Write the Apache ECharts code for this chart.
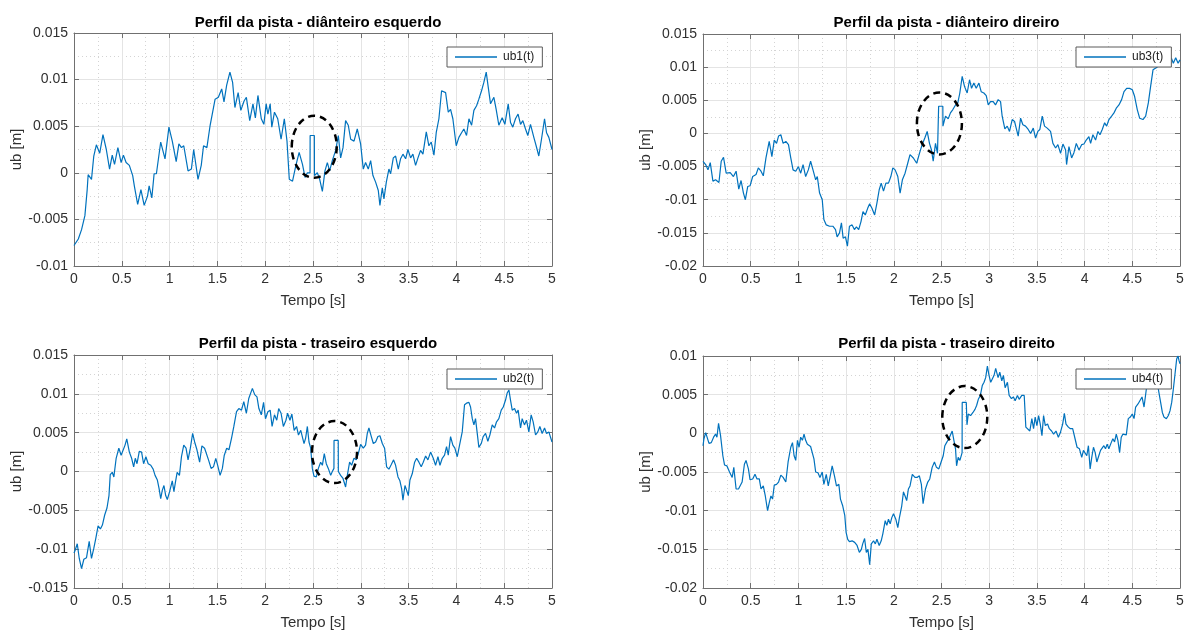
<!DOCTYPE html>
<html>
<head>
<meta charset="utf-8">
<title>Perfil da pista</title>
<script src="https://cdn.jsdelivr.net/npm/echarts@6/dist/echarts.min.js"></script>
<style>
  html, body { margin: 0; padding: 0; background: #fff; }
  #chart { width: 1189px; height: 634px; }
</style>
</head>
<body>
<div id="chart"></div>
<script>
// Road profile under each wheel, ub [m] vs time [s]

const titles = [
  'Perfil da pista - diânteiro esquerdo',
  'Perfil da pista - diânteiro direiro',
  'Perfil da pista - traseiro esquerdo',
  'Perfil da pista - traseiro direito'
];
const seriesNames = ['ub1(t)', 'ub3(t)', 'ub2(t)', 'ub4(t)'];

// y-axis ranges per panel [min, max]
const yRanges = [[-0.01, 0.015], [-0.02, 0.015], [-0.015, 0.015], [-0.02, 0.01]];
const xTicks = [0, 0.5, 1, 1.5, 2, 2.5, 3, 3.5, 4, 4.5, 5];

// ub1: front left
const tUb1 = [0,0.010,0.045,0.079,0.114,0.138,0.148,0.166,0.183,0.207,0.234,0.269,0.303,0.338,0.372,0.400,0.424,0.459,0.493,0.517,0.545,0.579,0.614,0.631,0.666,0.700,0.734,0.769,0.786,0.814,0.838,0.862,0.907,0.952,0.993,1.028,1.069,1.097,1.124,1.148,1.193,1.228,1.252,1.297,1.331,1.355,1.390,1.424,1.476,1.510,1.545,1.569,1.597,1.631,1.659,1.683,1.717,1.745,1.779,1.803,1.838,1.872,1.897,1.924,1.959,1.986,2.010,2.028,2.052,2.069,2.097,2.131,2.166,2.200,2.228,2.252,2.286,2.321,2.355,2.390,2.417,2.441,2.469,2.470,2.514,2.515,2.545,2.570,2.598,2.625,2.650,2.674,2.702,2.737,2.765,2.789,2.814,2.841,2.869,2.894,2.929,2.963,2.998,3.026,3.050,3.078,3.103,3.127,3.155,3.183,3.200,3.225,3.242,3.267,3.294,3.312,3.340,3.364,3.392,3.416,3.441,3.469,3.493,3.521,3.545,3.573,3.598,3.625,3.650,3.685,3.712,3.737,3.765,3.789,3.817,3.845,3.887,3.915,3.939,3.963,3.998,4.026,4.054,4.078,4.106,4.131,4.159,4.183,4.211,4.235,4.263,4.287,4.312,4.333,4.357,4.392,4.416,4.444,4.479,4.507,4.542,4.566,4.590,4.618,4.645,4.671,4.695,4.723,4.747,4.775,4.810,4.834,4.862,4.890,4.922,4.943,4.967,5.000];
const ub1 = [-0.0078,-0.0077,-0.0071,-0.0061,-0.0046,-0.0018,-0.0002,-0.0003,-0.0007,0.0018,0.0030,0.0021,0.0041,0.0025,0.0004,0.0019,0.0009,0.0027,0.0011,0.0019,0.0011,0.0008,-0.0003,-0.0014,-0.0034,-0.0018,-0.0035,-0.0025,-0.0014,-0.0027,-0.0001,-0.0001,0.0033,0.0015,0.0049,0.0034,0.0012,0.0031,0.0027,0.0029,0.0002,0.0004,0.0025,-0.0007,0.0008,0.0029,0.0027,0.0051,0.0079,0.0081,0.0090,0.0076,0.0094,0.0108,0.0097,0.0070,0.0086,0.0067,0.0077,0.0081,0.0056,0.0074,0.0059,0.0083,0.0058,0.0052,0.0074,0.0063,0.0074,0.0049,0.0065,0.0058,0.0036,0.0058,0.0034,-0.0007,-0.0009,0.0008,0.0022,0.0009,-0.0005,0.0000,0.0000,0.0040,0.0040,-0.0003,0.0000,-0.0007,-0.0020,0.0002,0.0011,0.0002,0.0013,0.0024,0.0040,0.0016,0.0027,0.0056,0.0051,0.0036,0.0034,0.0047,0.0031,0.0004,0.0011,0.0004,0.0013,-0.0003,-0.0010,-0.0019,-0.0035,-0.0016,-0.0028,-0.0010,0.0004,-0.0001,0.0016,0.0018,0.0004,0.0015,0.0020,0.0015,0.0025,0.0016,0.0020,0.0008,0.0016,0.0024,0.0020,0.0044,0.0029,0.0033,0.0019,0.0043,0.0058,0.0088,0.0086,0.0065,0.0068,0.0058,0.0029,0.0038,0.0043,0.0047,0.0040,0.0058,0.0051,0.0067,0.0072,0.0079,0.0088,0.0097,0.0108,0.0092,0.0074,0.0081,0.0068,0.0051,0.0059,0.0052,0.0074,0.0054,0.0049,0.0058,0.0063,0.0052,0.0056,0.0047,0.0040,0.0052,0.0038,0.0029,0.0018,0.0036,0.0058,0.0043,0.0038,0.0025];

// ub3: front right
const tUb3 = [0,0.028,0.052,0.076,0.104,0.132,0.167,0.191,0.215,0.243,0.285,0.319,0.347,0.375,0.399,0.424,0.444,0.469,0.493,0.521,0.556,0.580,0.608,0.632,0.660,0.694,0.722,0.747,0.771,0.792,0.816,0.840,0.868,0.896,0.920,0.944,0.972,1.000,1.024,1.049,1.076,1.104,1.128,1.153,1.181,1.198,1.222,1.250,1.267,1.292,1.326,1.361,1.389,1.406,1.431,1.451,1.469,1.493,1.514,1.535,1.563,1.587,1.608,1.632,1.656,1.677,1.701,1.726,1.747,1.771,1.799,1.823,1.847,1.868,1.892,1.917,1.944,1.969,1.990,2.014,2.042,2.066,2.090,2.118,2.146,2.170,2.205,2.240,2.269,2.297,2.325,2.350,2.374,2.395,2.413,2.437,2.458,2.469,2.470,2.514,2.515,2.524,2.542,2.570,2.594,2.619,2.647,2.671,2.692,2.717,2.741,2.769,2.794,2.815,2.839,2.864,2.892,2.916,2.944,2.969,2.990,3.014,3.042,3.066,3.094,3.119,3.136,3.164,3.189,3.213,3.241,3.266,3.283,3.304,3.329,3.353,3.381,3.409,3.434,3.462,3.486,3.510,3.531,3.556,3.580,3.608,3.643,3.668,3.696,3.720,3.748,3.773,3.801,3.811,3.836,3.864,3.888,3.913,3.941,3.969,3.993,4.017,4.045,4.063,4.087,4.115,4.140,4.161,4.185,4.210,4.231,4.255,4.283,4.308,4.332,4.360,4.388,4.413,4.441,4.472,4.500,4.524,4.552,4.577,4.612,4.640,4.668,4.692,4.717,4.738,4.760,4.790,4.820,4.850,4.885,4.909,4.930,4.955,4.980,5.000];
const ub3 = [-0.0042,-0.0047,-0.0055,-0.0044,-0.0072,-0.0070,-0.0074,-0.0042,-0.0036,-0.0060,-0.0059,-0.0065,-0.0057,-0.0084,-0.0071,-0.0090,-0.0100,-0.0080,-0.0079,-0.0065,-0.0062,-0.0052,-0.0057,-0.0064,-0.0037,-0.0012,-0.0035,-0.0010,-0.0015,-0.0004,-0.0002,-0.0015,-0.0012,-0.0017,-0.0037,-0.0055,-0.0057,-0.0050,-0.0060,-0.0047,-0.0065,-0.0055,-0.0042,-0.0055,-0.0070,-0.0065,-0.0090,-0.0100,-0.0130,-0.0138,-0.0140,-0.0140,-0.0145,-0.0156,-0.0150,-0.0135,-0.0158,-0.0156,-0.0170,-0.0140,-0.0138,-0.0145,-0.0141,-0.0145,-0.0133,-0.0118,-0.0123,-0.0113,-0.0106,-0.0113,-0.0123,-0.0105,-0.0085,-0.0075,-0.0087,-0.0075,-0.0075,-0.0065,-0.0052,-0.0055,-0.0065,-0.0090,-0.0070,-0.0060,-0.0045,-0.0032,-0.0037,-0.0045,-0.0030,-0.0017,-0.0007,0.0003,-0.0015,-0.0025,-0.0042,-0.0015,-0.0030,-0.0028,0.0041,0.0041,0.0011,0.0011,0.0026,0.0022,0.0031,0.0036,0.0043,0.0046,0.0061,0.0086,0.0071,0.0061,0.0081,0.0068,0.0076,0.0068,0.0076,0.0063,0.0061,0.0057,0.0043,0.0048,0.0048,0.0043,0.0051,0.0048,0.0026,0.0007,0.0011,0.0003,0.0021,0.0018,0.0008,-0.0004,0.0023,0.0013,0.0011,0.0006,0.0000,0.0008,-0.0007,0.0003,0.0006,0.0026,0.0011,0.0008,0.0003,-0.0015,-0.0022,-0.0017,-0.0030,-0.0016,-0.0025,-0.0047,-0.0020,-0.0037,-0.0029,-0.0015,-0.0025,-0.0017,-0.0016,-0.0010,-0.0005,-0.0015,-0.0002,-0.0010,0.0003,-0.0002,0.0006,0.0016,0.0011,0.0021,0.0026,0.0031,0.0038,0.0043,0.0051,0.0063,0.0068,0.0068,0.0066,0.0056,0.0036,0.0023,0.0021,0.0026,0.0046,0.0071,0.0096,0.0098,0.0100,0.0108,0.0112,0.0106,0.0109,0.0114,0.0106,0.0114,0.0106,0.0111];

// ub2: rear left
const tUb2 = [0,0.010,0.034,0.055,0.079,0.103,0.131,0.159,0.183,0.207,0.228,0.252,0.276,0.297,0.321,0.345,0.366,0.379,0.400,0.417,0.441,0.469,0.493,0.510,0.534,0.552,0.579,0.603,0.624,0.641,0.659,0.683,0.707,0.728,0.752,0.776,0.803,0.828,0.848,0.872,0.890,0.907,0.924,0.941,0.959,0.976,1.000,1.028,1.045,1.062,1.079,1.103,1.124,1.148,1.172,1.193,1.217,1.241,1.262,1.286,1.314,1.338,1.366,1.383,1.407,1.434,1.459,1.483,1.503,1.528,1.552,1.572,1.597,1.621,1.648,1.672,1.700,1.724,1.752,1.776,1.803,1.828,1.848,1.866,1.890,1.914,1.934,1.959,1.983,2.003,2.028,2.052,2.072,2.097,2.121,2.141,2.166,2.190,2.217,2.234,2.259,2.279,2.303,2.328,2.348,2.372,2.390,2.406,2.423,2.441,2.458,2.476,2.493,2.510,2.535,2.556,2.580,2.598,2.618,2.639,2.660,2.685,2.702,2.719,2.720,2.764,2.765,2.789,2.814,2.841,2.859,2.883,2.904,2.929,2.953,2.974,2.998,3.026,3.050,3.068,3.085,3.110,3.131,3.155,3.179,3.200,3.225,3.249,3.270,3.294,3.319,3.343,3.364,3.389,3.409,3.427,3.441,3.462,3.479,3.497,3.514,3.538,3.563,3.584,3.608,3.632,3.653,3.678,3.702,3.730,3.758,3.782,3.807,3.828,3.852,3.876,3.897,3.915,3.939,3.963,3.984,4.009,4.033,4.061,4.085,4.106,4.131,4.148,4.166,4.183,4.200,4.218,4.235,4.260,4.280,4.305,4.329,4.350,4.375,4.399,4.420,4.444,4.469,4.490,4.514,4.531,4.549,4.566,4.584,4.608,4.629,4.646,4.671,4.688,4.712,4.733,4.758,4.782,4.803,4.828,4.852,4.873,4.897,4.922,4.943,4.967,5.000];
const ub2 = [-0.0105,-0.0102,-0.0093,-0.0112,-0.0125,-0.0113,-0.0111,-0.0090,-0.0112,-0.0099,-0.0086,-0.0070,-0.0074,-0.0069,-0.0056,-0.0047,-0.0031,-0.0004,-0.0001,-0.0007,0.0017,0.0030,0.0021,0.0023,0.0034,0.0042,0.0025,0.0017,0.0006,0.0017,0.0010,0.0026,0.0025,0.0010,0.0019,0.0010,0.0008,0.0003,-0.0005,-0.0011,-0.0022,-0.0035,-0.0024,-0.0018,-0.0031,-0.0036,-0.0026,-0.0012,-0.0026,-0.0013,-0.0001,-0.0005,0.0019,0.0034,0.0030,0.0015,0.0030,0.0049,0.0038,0.0028,0.0012,0.0033,0.0030,0.0032,0.0015,0.0004,0.0006,0.0017,0.0008,-0.0005,0.0004,0.0021,0.0030,0.0028,0.0043,0.0058,0.0077,0.0081,0.0079,0.0090,0.0075,0.0094,0.0096,0.0107,0.0099,0.0096,0.0081,0.0073,0.0089,0.0068,0.0077,0.0079,0.0058,0.0073,0.0066,0.0081,0.0075,0.0058,0.0066,0.0075,0.0066,0.0074,0.0053,0.0058,0.0047,0.0053,0.0052,0.0036,0.0043,0.0058,0.0038,0.0030,0.0004,-0.0006,-0.0007,0.0004,0.0012,0.0008,0.0023,0.0010,0.0004,-0.0005,0.0000,0.0004,0.0040,0.0040,0.0000,-0.0005,-0.0009,-0.0020,-0.0005,0.0012,0.0008,0.0017,0.0015,0.0023,0.0035,0.0030,0.0034,0.0049,0.0056,0.0045,0.0036,0.0038,0.0045,0.0046,0.0036,0.0030,0.0006,0.0003,0.0009,0.0015,0.0008,-0.0007,-0.0012,-0.0022,-0.0037,-0.0018,-0.0024,-0.0031,-0.0011,-0.0003,0.0012,0.0017,0.0012,0.0006,0.0012,0.0020,0.0015,0.0025,0.0017,0.0008,0.0019,0.0008,0.0017,0.0021,0.0032,0.0021,0.0045,0.0034,0.0030,0.0019,0.0034,0.0051,0.0086,0.0088,0.0089,0.0083,0.0068,0.0060,0.0068,0.0049,0.0031,0.0036,0.0045,0.0049,0.0039,0.0047,0.0060,0.0056,0.0064,0.0068,0.0079,0.0083,0.0092,0.0101,0.0105,0.0092,0.0079,0.0081,0.0075,0.0079,0.0056,0.0068,0.0060,0.0066,0.0051,0.0073,0.0064,0.0047,0.0051,0.0058,0.0049,0.0056,0.0049,0.0051,0.0038];

// ub4: rear right
const tUb4 = [0,0.010,0.028,0.042,0.063,0.087,0.111,0.132,0.146,0.163,0.184,0.208,0.226,0.250,0.278,0.306,0.323,0.347,0.372,0.392,0.410,0.434,0.451,0.476,0.493,0.521,0.545,0.566,0.590,0.608,0.632,0.653,0.677,0.694,0.712,0.729,0.747,0.771,0.792,0.816,0.840,0.868,0.892,0.920,0.938,0.955,0.972,0.990,1.007,1.024,1.042,1.059,1.076,1.094,1.111,1.128,1.146,1.163,1.181,1.205,1.226,1.250,1.267,1.292,1.313,1.337,1.354,1.378,1.399,1.424,1.441,1.465,1.486,1.500,1.517,1.535,1.563,1.590,1.615,1.639,1.660,1.674,1.694,1.712,1.729,1.747,1.764,1.788,1.806,1.823,1.847,1.868,1.885,1.910,1.927,1.944,1.962,1.979,1.997,2.021,2.042,2.059,2.083,2.101,2.118,2.135,2.153,2.170,2.194,2.222,2.244,2.268,2.289,2.307,2.332,2.356,2.377,2.402,2.426,2.447,2.472,2.496,2.518,2.535,2.553,2.577,2.595,2.612,2.630,2.647,2.658,2.675,2.693,2.716,2.717,2.760,2.767,2.781,2.805,2.830,2.851,2.868,2.886,2.907,2.928,2.946,2.963,2.981,2.998,3.016,3.033,3.051,3.068,3.093,3.111,3.132,3.149,3.167,3.191,3.209,3.233,3.254,3.272,3.296,3.314,3.342,3.367,3.384,3.402,3.426,3.447,3.465,3.482,3.500,3.518,3.535,3.553,3.570,3.588,3.612,3.630,3.654,3.675,3.700,3.725,3.746,3.770,3.788,3.805,3.830,3.851,3.875,3.900,3.921,3.946,3.970,3.988,4.005,4.023,4.040,4.058,4.075,4.093,4.111,4.128,4.149,4.167,4.184,4.202,4.219,4.237,4.254,4.279,4.296,4.314,4.332,4.349,4.367,4.384,4.402,4.419,4.437,4.458,4.479,4.500,4.518,4.535,4.560,4.577,4.602,4.623,4.647,4.665,4.690,4.720,4.750,4.773,4.797,4.815,4.832,4.857,4.878,4.895,4.913,4.930,4.948,4.965,4.979,4.990,5.000];
const ub4 = [-0.0016,-0.0007,0.0001,0.0002,-0.0013,-0.0012,-0.0005,-0.0001,-0.0005,0.0013,-0.0003,-0.0029,-0.0041,-0.0042,-0.0050,-0.0057,-0.0044,-0.0072,-0.0072,-0.0074,-0.0063,-0.0040,-0.0035,-0.0046,-0.0060,-0.0059,-0.0053,-0.0059,-0.0059,-0.0072,-0.0068,-0.0081,-0.0100,-0.0090,-0.0081,-0.0085,-0.0067,-0.0066,-0.0063,-0.0054,-0.0057,-0.0063,-0.0037,-0.0018,-0.0012,-0.0029,-0.0035,-0.0009,-0.0018,-0.0005,-0.0009,-0.0001,-0.0009,-0.0014,-0.0012,-0.0017,-0.0016,-0.0033,-0.0050,-0.0051,-0.0057,-0.0050,-0.0066,-0.0053,-0.0068,-0.0053,-0.0042,-0.0055,-0.0068,-0.0066,-0.0085,-0.0094,-0.0106,-0.0128,-0.0137,-0.0140,-0.0139,-0.0141,-0.0145,-0.0154,-0.0150,-0.0143,-0.0136,-0.0154,-0.0150,-0.0170,-0.0143,-0.0139,-0.0143,-0.0137,-0.0145,-0.0139,-0.0130,-0.0113,-0.0119,-0.0111,-0.0117,-0.0109,-0.0104,-0.0111,-0.0122,-0.0109,-0.0094,-0.0076,-0.0081,-0.0087,-0.0072,-0.0068,-0.0053,-0.0057,-0.0057,-0.0055,-0.0066,-0.0091,-0.0072,-0.0063,-0.0059,-0.0044,-0.0037,-0.0044,-0.0046,-0.0037,-0.0029,-0.0016,-0.0012,-0.0007,-0.0005,0.0003,-0.0009,-0.0020,-0.0042,-0.0031,-0.0035,-0.0025,0.0040,0.0040,0.0011,0.0025,0.0023,0.0027,0.0031,0.0036,0.0044,0.0049,0.0062,0.0066,0.0072,0.0087,0.0075,0.0066,0.0064,0.0075,0.0084,0.0072,0.0079,0.0068,0.0075,0.0059,0.0066,0.0049,0.0045,0.0047,0.0042,0.0049,0.0044,0.0049,0.0049,0.0008,0.0006,0.0003,0.0019,0.0006,0.0021,0.0010,0.0023,0.0012,-0.0003,0.0023,0.0010,0.0012,0.0006,0.0003,-0.0001,0.0003,-0.0005,0.0001,0.0012,0.0026,0.0012,0.0008,0.0006,0.0006,-0.0007,-0.0018,-0.0020,-0.0031,-0.0022,-0.0020,-0.0029,-0.0016,-0.0046,-0.0031,-0.0018,-0.0025,-0.0037,-0.0029,-0.0022,-0.0022,-0.0016,-0.0020,-0.0014,-0.0020,-0.0012,-0.0007,-0.0011,-0.0001,-0.0009,-0.0025,-0.0005,-0.0001,0.0001,-0.0002,0.0019,0.0021,0.0025,0.0019,0.0034,0.0038,0.0036,0.0047,0.0034,0.0057,0.0066,0.0077,0.0078,0.0072,0.0057,0.0040,0.0027,0.0021,0.0019,0.0023,0.0029,0.0040,0.0057,0.0077,0.0096,0.0100,0.0094,0.0090];

// dashed highlight around the bump in each panel: [t, ub]
const bumpMarks = [[2.513, 0.0028], [2.478, 0.0015], [2.725, 0.0025], [2.744, 0.0021]];

const panelTimes = [tUb1, tUb3, tUb2, tUb4];
const panelValues = [ub1, ub3, ub2, ub4];

// layout of the four panels
const panels = [
  { left: 74,  top: 33,  width: 478, height: 233, legendLeft: 447,  legendTop: 47,  titleTop: 10 },
  { left: 703, top: 34,  width: 477, height: 232, legendLeft: 1076, legendTop: 47,  titleTop: 10 },
  { left: 74,  top: 355, width: 478, height: 233, legendLeft: 447,  legendTop: 369, titleTop: 331 },
  { left: 703, top: 356, width: 477, height: 232, legendLeft: 1076, legendTop: 369, titleTop: 331 }
];

const FONT = '"Liberation Sans", Arial, Helvetica, sans-serif';
const AXIS_COLOR = '#707070';
const TEXT_COLOR = '#303030';
const LINE_COLOR = '#0072BD';

const grid = [], xAxis = [], yAxis = [], series = [], legend = [], title = [];

panels.forEach((p, i) => {
  grid.push({ left: p.left, top: p.top, width: p.width, height: p.height,
              containLabel: false, show: true, backgroundColor: '#fff', borderWidth: 0 });

  const [ymin, ymax] = yRanges[i];
  const xBase = {
    type: 'value', gridIndex: i, min: xTicks[0], max: xTicks[xTicks.length - 1], interval: 0.5,
    axisLine: { show: true, onZero: false, lineStyle: { color: AXIS_COLOR, width: 1 } },
    axisTick: { show: true, inside: true, length: 5, lineStyle: { color: AXIS_COLOR } },
    minorTick: { show: false, splitNumber: 2 }
  };
  // bottom x axis with labels and grid
  xAxis.push(Object.assign({}, xBase, {
    position: 'bottom',
    name: 'Tempo [s]', nameLocation: 'middle', nameGap: 27,
    nameTextStyle: { fontFamily: FONT, fontSize: 15, color: TEXT_COLOR },
    axisLabel: { show: true, margin: 6, fontFamily: FONT, fontSize: 14, color: TEXT_COLOR,
                 formatter: v => String(+v.toFixed(2)) },
    splitLine: { show: true, lineStyle: { color: '#e4e4e4', width: 1 } },
    minorSplitLine: { show: true, lineStyle: { color: '#d4d4d4', width: 1, type: [1, 3] } }
  }));
  // top x axis: box edge with ticks
  xAxis.push(Object.assign({}, xBase, {
    position: 'top', axisLabel: { show: false }, splitLine: { show: false }
  }));

  const yBase = {
    type: 'value', gridIndex: i, min: ymin, max: ymax, interval: 0.005,
    axisLine: { show: true, onZero: false, lineStyle: { color: AXIS_COLOR, width: 1 } },
    axisTick: { show: true, inside: true, length: 5, lineStyle: { color: AXIS_COLOR } },
    minorTick: { show: false, splitNumber: 2 }
  };
  yAxis.push(Object.assign({}, yBase, {
    position: 'left',
    name: 'ub [m]', nameLocation: 'middle', nameGap: 43, nameRotate: 90,
    nameTextStyle: { fontFamily: FONT, fontSize: 15, color: TEXT_COLOR },
    axisLabel: { show: true, margin: 6, fontFamily: FONT, fontSize: 14, color: TEXT_COLOR,
                 formatter: v => String(+v.toFixed(3)) },
    splitLine: { show: true, lineStyle: { color: '#e4e4e4', width: 1 } },
    minorSplitLine: { show: true, lineStyle: { color: '#d4d4d4', width: 1, type: [1, 3] } }
  }));
  yAxis.push(Object.assign({}, yBase, {
    position: 'right', axisLabel: { show: false }, splitLine: { show: false }
  }));

  const times = panelTimes[i], vals = panelValues[i];
  series.push({
    type: 'line', name: seriesNames[i],
    xAxisIndex: 2 * i, yAxisIndex: 2 * i,
    data: times.map((t, k) => [t, vals[k]]),
    symbol: 'none', smooth: false, animation: false,
    lineStyle: { color: LINE_COLOR, width: 1.2 },
    itemStyle: { color: LINE_COLOR },
    z: 3
  });

  legend.push({
    data: [{ name: seriesNames[i], icon: 'rect' }],
    left: p.legendLeft, top: p.legendTop,
    orient: 'horizontal',
    itemWidth: 42, itemHeight: 1.5,
    padding: [4, 8, 4, 8],
    backgroundColor: '#fff', borderColor: '#5a5a5a', borderWidth: 1, borderRadius: 0,
    textStyle: { fontFamily: FONT, fontSize: 12, color: '#222', padding: [0, 0, 0, 1] },
    selectedMode: false
  });

  title.push({
    text: titles[i],
    left: p.left + p.width / 2, top: p.titleTop,
    textAlign: 'center',
    textStyle: { fontFamily: FONT, fontSize: 15, fontWeight: 'bold', color: '#000' }
  });
});

const chart = echarts.init(document.getElementById('chart'), null, { renderer: 'canvas' });
chart.setOption({
  animation: false,
  backgroundColor: '#fff',
  title, legend, grid, xAxis, yAxis, series
});

// dashed ellipses placed through the series coordinate systems
const ellipses = bumpMarks.map((m, i) => {
  const [cx, cy] = chart.convertToPixel({ seriesIndex: i }, m);
  return {
    type: 'ellipse', z: 100,
    shape: { cx, cy, rx: 22.5, ry: 31 },
    style: { fill: null, stroke: '#000', lineWidth: 2.5, lineDash: [7, 5] },
    silent: true
  };
});
chart.setOption({ graphic: ellipses });
</script>
</body>
</html>
